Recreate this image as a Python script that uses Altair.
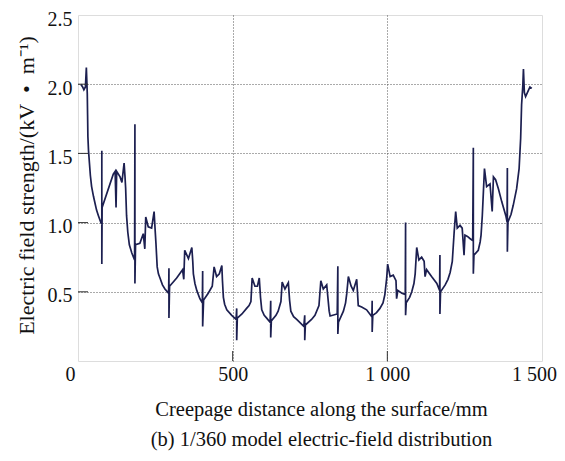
import altair as alt
import pandas as pd

# Creepage distance (mm) and electric field strength (kV/m), traced along the path
x_mm = [9, 15, 19, 24, 27, 30, 31, 32, 34, 37, 40, 44, 50, 55, 60, 66, 74,
        77, 77, 77, 78, 114, 120, 123, 125, 136, 142, 149, 152, 154, 157, 161, 166, 174, 183,
        184, 184, 186, 200, 211, 216, 219, 227, 238, 246, 249, 252, 256, 260, 265, 273, 281, 293,
        294, 294, 296, 319, 338, 342, 345, 357, 368, 371, 373, 378, 384, 394, 402,
        403, 403, 406, 421, 434, 440, 448, 457, 465, 467, 470, 474, 481, 497, 511,
        513, 513, 515, 530, 545, 553, 559, 563, 572, 580, 586, 590, 594, 602, 610, 621,
        623, 623, 625, 640, 647, 656, 660, 669, 680, 684, 688, 697, 707, 730,
        733, 733, 735, 755, 766, 779, 785, 793, 804, 812, 815, 838,
        840, 840, 842, 858, 865, 869, 874, 883, 890, 901, 906, 917, 933, 950,
        951, 951, 953, 965, 976, 986, 992, 998, 1001, 1009, 1019, 1028, 1030, 1034, 1047, 1058,
        1059, 1059, 1061, 1072, 1079, 1086, 1090, 1095, 1102, 1111, 1119, 1122, 1127, 1143, 1160, 1169,
        1170, 1170, 1172, 1187, 1196, 1203, 1210, 1216, 1221, 1226, 1235, 1242, 1248, 1251, 1259, 1267, 1276,
        1278, 1278, 1280, 1294, 1300, 1303, 1307, 1314, 1321, 1332, 1339, 1343, 1350, 1359, 1370, 1383, 1387,
        1388, 1388, 1390, 1400, 1407, 1418, 1426, 1431, 1434, 1438, 1440, 1443, 1447, 1456, 1461, 1467]
e_kv = [2.00, 1.98, 1.96, 1.98, 2.12, 1.93, 1.78, 1.62, 1.52, 1.43, 1.34, 1.26, 1.19, 1.14, 1.09, 1.05, 1.00,
        0.99, 1.52, 0.70, 1.11, 1.35, 1.37, 1.11, 1.37, 1.33, 1.29, 1.43, 1.33, 1.25, 1.05, 0.93, 0.84, 0.78, 0.73,
        1.71, 0.56, 0.84, 0.85, 0.92, 0.81, 1.04, 0.97, 0.96, 1.08, 0.96, 0.85, 0.68, 0.63, 0.60, 0.55, 0.52, 0.49,
        0.67, 0.31, 0.54, 0.60, 0.66, 0.59, 0.80, 0.74, 0.82, 0.72, 0.63, 0.56, 0.51, 0.45, 0.42,
        0.65, 0.25, 0.44, 0.49, 0.54, 0.68, 0.61, 0.63, 0.69, 0.58, 0.46, 0.41, 0.37, 0.33, 0.30,
        0.38, 0.15, 0.31, 0.34, 0.38, 0.40, 0.43, 0.60, 0.54, 0.54, 0.60, 0.46, 0.37, 0.33, 0.31, 0.28,
        0.435, 0.17, 0.29, 0.33, 0.36, 0.43, 0.57, 0.52, 0.565, 0.44, 0.36, 0.32, 0.30, 0.25,
        0.33, 0.15, 0.26, 0.30, 0.33, 0.40, 0.58, 0.52, 0.55, 0.36, 0.325, 0.34,
        0.685, 0.195, 0.28, 0.36, 0.42, 0.49, 0.61, 0.54, 0.51, 0.59, 0.40, 0.39, 0.37, 0.32,
        0.435, 0.21, 0.33, 0.35, 0.38, 0.42, 0.48, 0.60, 0.70, 0.61, 0.62, 0.58, 0.45, 0.51, 0.49, 0.48,
        1.00, 0.33, 0.42, 0.46, 0.50, 0.56, 0.63, 0.82, 0.73, 0.75, 0.72, 0.61, 0.66, 0.61, 0.56, 0.51,
        0.765, 0.34, 0.50, 0.55, 0.59, 0.64, 0.72, 0.93, 1.08, 0.96, 0.98, 0.96, 0.765, 0.91, 0.90, 0.885, 0.87,
        1.54, 0.63, 0.765, 0.80, 0.86, 0.91, 1.05, 1.39, 1.26, 1.28, 1.08, 1.33, 1.31, 1.245, 1.15, 1.05, 1.005,
        1.395, 0.79, 1.005, 1.06, 1.125, 1.245, 1.39, 1.61, 1.85, 1.99, 2.11, 1.94, 1.91, 1.955, 1.98, 1.97]

x_tick_values = [0, 500, 1000, 1500]
y_tick_values = [0, 0.5, 1.0, 1.5, 2.0, 2.5]
x_inner_ticks = [500, 1000]
y_inner_ticks = [0.5, 1.0, 1.5, 2.0]

x_title = ["Creepage distance along the surface/mm",
           "(b) 1/360 model electric-field distribution"]
y_title = "Electric field strength/(kV\u2002\u2022\u2002m\u207b\u00b9)"

FONT = "Liberation Serif"
W, H = 464, 346

df = pd.DataFrame({"x": x_mm, "y": e_kv, "i": list(range(len(x_mm)))})
df_xt = pd.DataFrame({"x": x_inner_ticks})
df_yt = pd.DataFrame({"y": y_inner_ticks})

xscale = alt.Scale(domain=[0, 1500], nice=False, zero=False)
yscale = alt.Scale(domain=[0, 2.5], nice=False, zero=False)

xaxis = alt.Axis(
    values=x_tick_values,
    labelExpr="replace(format(datum.value, ','), ',', ' ')",
    labelFont=FONT, labelFontSize=20, labelColor="#111",
    labelPadding=3, labelFlush=False,
    labelOffset={"condition": {"test": "datum.value === 0 || datum.value === 1500",
                               "value": -8}, "value": 0},
    ticks=False, domain=False,
    grid=True, gridDash=[1, 2], gridColor="#555", gridWidth=1,
    gridOpacity={"condition": {"test": "datum.value > 0 && datum.value < 1500", "value": 1}, "value": 0},
    title=x_title, titleFont=FONT, titleFontSize=20.5, titleFontWeight="normal",
    titleColor="#111", titleLineHeight=30, titleBaseline="alphabetic",
    titleX=243, titleY=54,
)
yaxis = alt.Axis(
    values=y_tick_values,
    labelExpr="datum.value === 0 ? '' : format(datum.value, '.1f')",
    labelFont=FONT, labelFontSize=20, labelColor="#111",
    labelPadding=6, labelFlush=False, labelOffset=4,
    ticks=False, domain=False,
    grid=True, gridDash=[1, 2], gridColor="#555", gridWidth=1,
    gridOpacity={"condition": {"test": "datum.value > 0 && datum.value < 2.5", "value": 1}, "value": 0},
    title=y_title, titleFont=FONT, titleFontSize=22, titleFontWeight="normal",
    titleColor="#111", titleBaseline="bottom", titleX=-40, titleY=170,
)

line = alt.Chart(df).mark_line(color="#1c1f50", strokeWidth=1.7).encode(
    x=alt.X("x:Q", scale=xscale, axis=xaxis),
    y=alt.Y("y:Q", scale=yscale, axis=yaxis),
    order="i:Q",
)

xt = alt.Chart(df_xt).mark_rule(color="#333", strokeWidth=1).encode(
    x=alt.X("x:Q", scale=xscale),
    y=alt.value(H),
    y2=alt.value(H - 10),
)
yt = alt.Chart(df_yt).mark_rule(color="#333", strokeWidth=1).encode(
    y=alt.Y("y:Q", scale=yscale),
    x=alt.value(0),
    x2=alt.value(10),
)

chart = alt.layer(line, xt, yt).properties(
    width=W, height=H,
    autosize=alt.AutoSizeParams(type="none"),
    padding={"left": 70, "top": 7, "right": 15, "bottom": 92},
).configure_view(stroke="#555", strokeWidth=1).configure(background="white")

chart.save("out.html", embed_options={"renderer": "svg", "actions": False})
